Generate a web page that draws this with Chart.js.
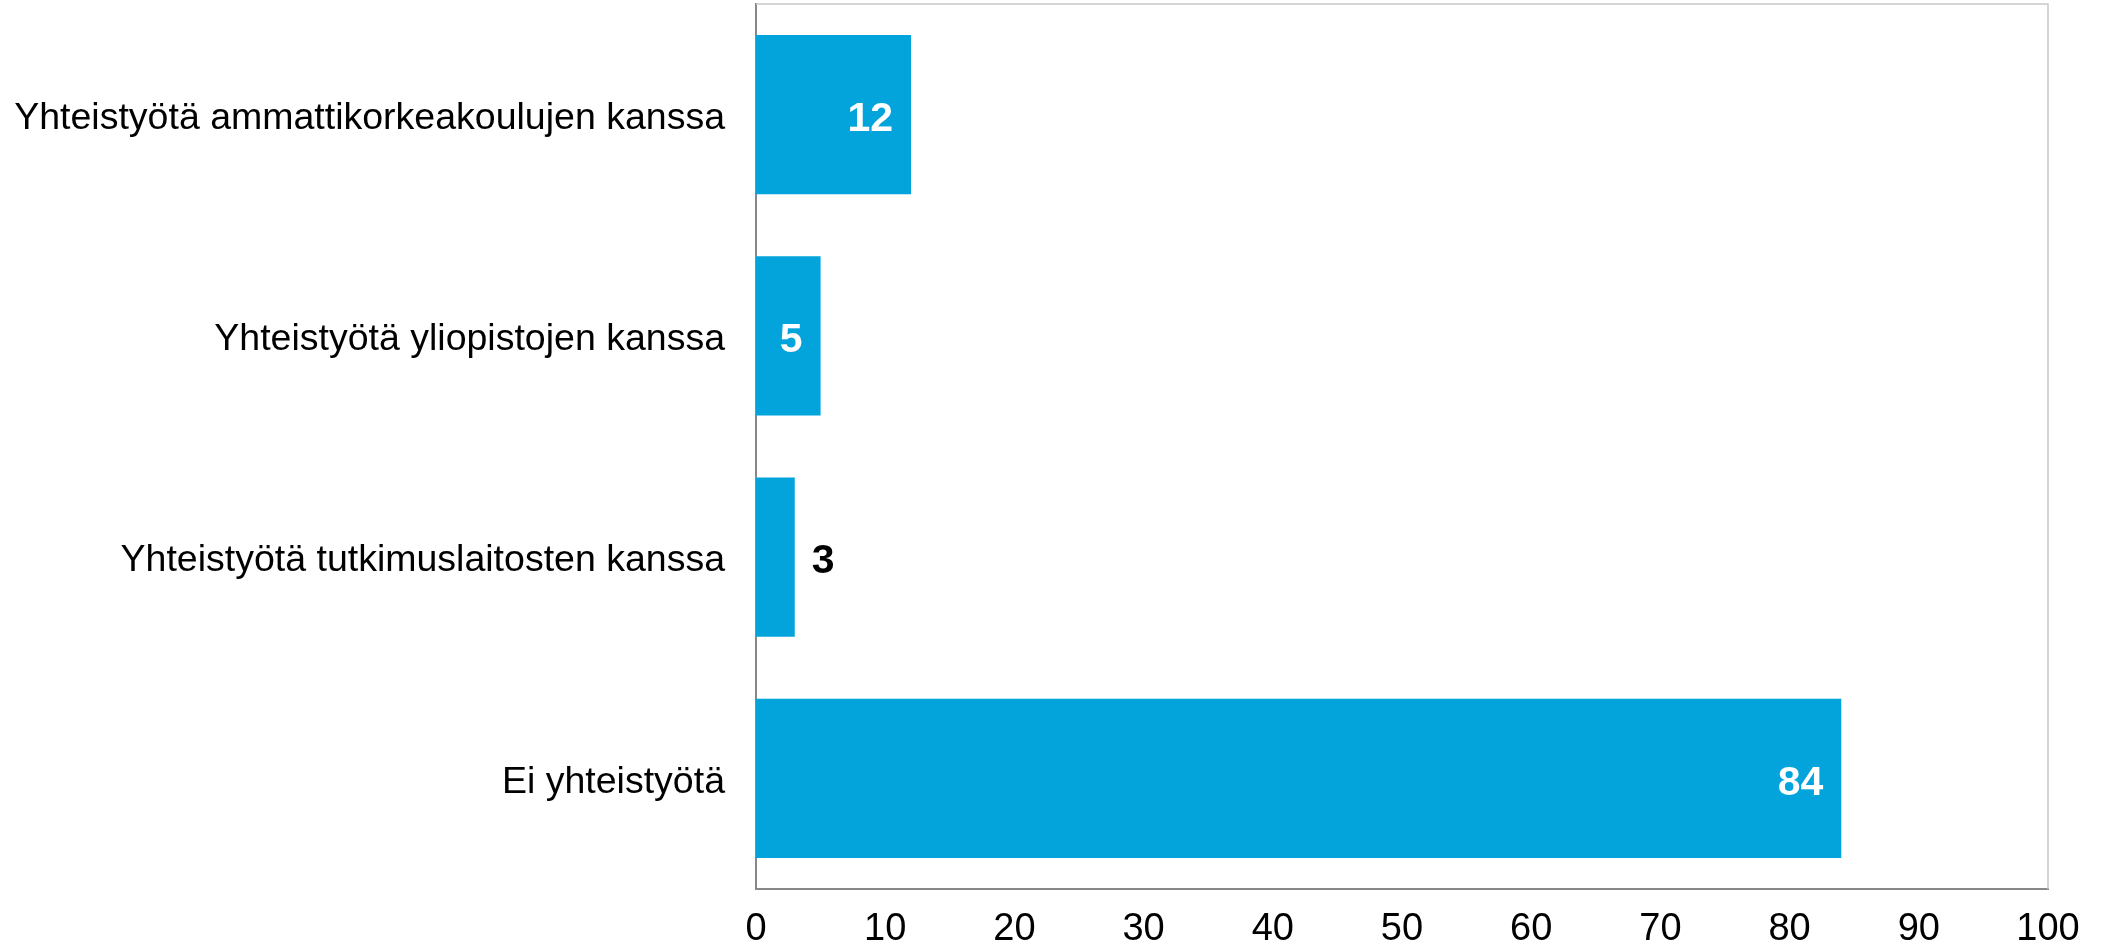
<!DOCTYPE html>
<html>
<head>
<meta charset="utf-8">
<script src="https://cdn.jsdelivr.net/npm/chart.js@4.4.1/dist/chart.umd.min.js"></script>
<style>
  html, body { margin: 0; padding: 0; background: #fff; }
  #wrap { width: 2105px; height: 947px; }
</style>
</head>
<body>
<div id="wrap"><canvas id="chart" width="2105" height="947"></canvas></div>
<script>
// --- Data ---
const categories = [
    'Yhteistyötä ammattikorkeakoulujen kanssa',
    'Yhteistyötä yliopistojen kanssa',
    'Yhteistyötä tutkimuslaitosten kanssa',
    'Ei yhteistyötä'
];
const values = [12, 5, 3, 84];
const xTicks = [0, 10, 20, 30, 40, 50, 60, 70, 80, 90, 100];

const FONT = 'Liberation Sans, Arial, sans-serif';

// frame: light top/right lines
const framePlugin = {
    id: 'frame',
    beforeDatasetsDraw(chart) {
        const { ctx, chartArea: a } = chart;
        ctx.save();
        ctx.strokeStyle = '#c8c8c8';
        ctx.lineWidth = 1.5;
        ctx.beginPath();
        ctx.moveTo(a.left, a.top);
        ctx.lineTo(a.right, a.top);
        ctx.lineTo(a.right, a.bottom);
        ctx.stroke();
        ctx.restore();
    }
};

// value labels: white inside long bars, black outside short ones
const valueLabels = {
    id: 'valueLabels',
    afterDatasetsDraw(chart) {
        const { ctx } = chart;
        const meta = chart.getDatasetMeta(0);
        ctx.save();
        ctx.font = 'bold 41px ' + FONT;
        ctx.textBaseline = 'middle';
        meta.data.forEach((bar, i) => {
            const txt = String(values[i]);
            const w = ctx.measureText(txt).width;
            const barLen = bar.x - bar.base;
            if (barLen > w + 30) {
                ctx.fillStyle = '#ffffff';
                ctx.textAlign = 'right';
                ctx.fillText(txt, bar.x - 18, bar.y + 5);
            } else {
                ctx.fillStyle = '#000000';
                ctx.textAlign = 'left';
                ctx.fillText(txt, bar.x + 17, bar.y + 5);
            }
        });
        ctx.restore();
    }
};

const ctx = document.getElementById('chart').getContext('2d');
new Chart(ctx, {
    type: 'bar',
    data: {
        labels: categories,
        datasets: [{
            data: values,
            backgroundColor: '#02a4db',
            borderWidth: 0,
            categoryPercentage: 0.72,
            barPercentage: 1
        }]
    },
    options: {
        indexAxis: 'y',
        responsive: false,
        animation: false,
        devicePixelRatio: 1,
        layout: { padding: { top: 4, right: 57, left: 0, bottom: 0 } },
        plugins: {
            legend: { display: false },
            tooltip: { enabled: false }
        },
        scales: {
            x: {
                min: 0,
                max: 100,
                afterBuildTicks(scale) {
                    scale.ticks = xTicks.map(v => ({ value: v }));
                },
                afterFit(scale) {
                    scale.height = 58;
                    scale.paddingLeft = 0;
                    scale.paddingRight = 0;
                },
                grid: { display: false, drawTicks: false },
                border: { display: true, color: '#888888', width: 2 },
                ticks: {
                    color: '#000',
                    font: { family: FONT, size: 38 },
                    padding: 18,
                    maxRotation: 0
                }
            },
            y: {
                afterFit(scale) {
                    scale.width = 756;
                    scale.paddingTop = 0;
                    scale.paddingBottom = 0;
                },
                grid: { display: false, drawTicks: false },
                border: { display: true, color: '#888888', width: 2 },
                ticks: {
                    color: '#000',
                    font: { family: FONT, size: 37.5 },
                    padding: 31,
                    labelOffset: 4
                }
            }
        }
    },
    plugins: [framePlugin, valueLabels]
});
</script>
</body>
</html>
